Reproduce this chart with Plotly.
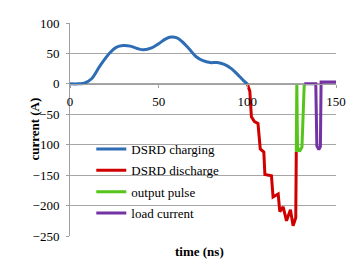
import plotly.graph_objects as go

# ---- data ----
charging_t = [0, 5, 8, 12, 17, 22.5, 26, 30, 34, 38, 41.5, 46, 50, 54, 57, 60, 63, 67, 71, 75, 79, 83, 87, 91, 95, 98, 100]
charging_i = [0, 0, 1, 8, 30, 51, 60, 63, 62, 58, 56, 59, 66, 74, 77, 76, 70, 58, 45, 38, 35, 35, 32, 25, 14, 5, 0]

discharge_t = [100, 101.4, 102.3, 104, 106, 107, 107.3, 109.3, 109.9, 113.6, 114.5, 117.4, 118.3, 120.2, 122.1, 124.3, 125.8, 127.3, 127.6]
discharge_i = [0, -12, -54, -62, -65, -96, -107, -112, -149, -151, -186, -181, -210, -202, -225, -207, -233, -220, -112]

pulse_t = [127.6, 127.9, 128.3, 129.4, 130.8, 132.1]
pulse_i = [-112, 0, -104, -111, -104, 0]

load_t = [132.1, 138.6, 139.2, 140.3, 141.2, 141.6, 150]
load_i = [0, 0, -102, -108, -103, 3, 3]

names = ["DSRD charging", "DSRD discharge", "output pulse", "load current"]
colors = ["#2E6DB4", "#D00000", "#55C51A", "#7433A3"]

x_ticks = [0, 50, 100, 150]
y_ticks = [100, 50, 0, -50, -100, -150, -200, -250]

FONT = "Liberation Serif"
tfont = dict(family=FONT, size=13, color="black")

fig = go.Figure()
series = [(charging_t, charging_i, "spline"), (discharge_t, discharge_i, "linear"),
          (pulse_t, pulse_i, "linear"), (load_t, load_i, "linear")]
for k, (t, i, shp) in enumerate(series):
    fig.add_trace(go.Scatter(x=t, y=i, mode="lines", name=names[k], legendgroup=names[k],
                             line=dict(color=colors[k], width=3, shape=shp)))

# the page body has an 8px default margin, so the figure is 8px smaller
fig.update_layout(
    width=355, height=259,
    margin=dict(l=62, r=27, t=8, b=31),
    paper_bgcolor="white", plot_bgcolor="white",
    font=tfont,
    showlegend=True,
    legend=dict(x=0.08, y=0.479, xanchor="left", yanchor="top", bgcolor="rgba(0,0,0,0)",
                font=tfont, tracegroupgap=1.5, traceorder="grouped"),
    xaxis=dict(range=[0, 150], tickvals=x_ticks, showgrid=False, zeroline=False,
               anchor="free", position=250 / 350, showline=True, linecolor="#A0A0A0",
               linewidth=1, ticks="outside", ticklen=3, tickcolor="#A0A0A0", tickfont=tfont,
               ticklabelstandoff=3),
    yaxis=dict(range=[-250, 100], tickvals=y_ticks, showgrid=True, gridcolor="#A6A6A6",
               zeroline=False, showline=True, linecolor="#A0A0A0", linewidth=1,
               ticks="outside", ticklen=3, tickcolor="#A0A0A0", tickfont=tfont,
               ticklabelstandoff=4),
    annotations=[
        dict(text="<b>current (A)</b>", xref="paper", yref="paper", x=-0.135, y=0.5,
             textangle=-90, showarrow=False, xanchor="center", yanchor="middle",
             font=tfont),
        dict(text="<b>time (ns)</b>", xref="paper", yref="paper", x=0.485, y=-0.075,
             showarrow=False, xanchor="center", yanchor="middle",
             font=tfont),
    ],
)

fig.write_html("out.html")
